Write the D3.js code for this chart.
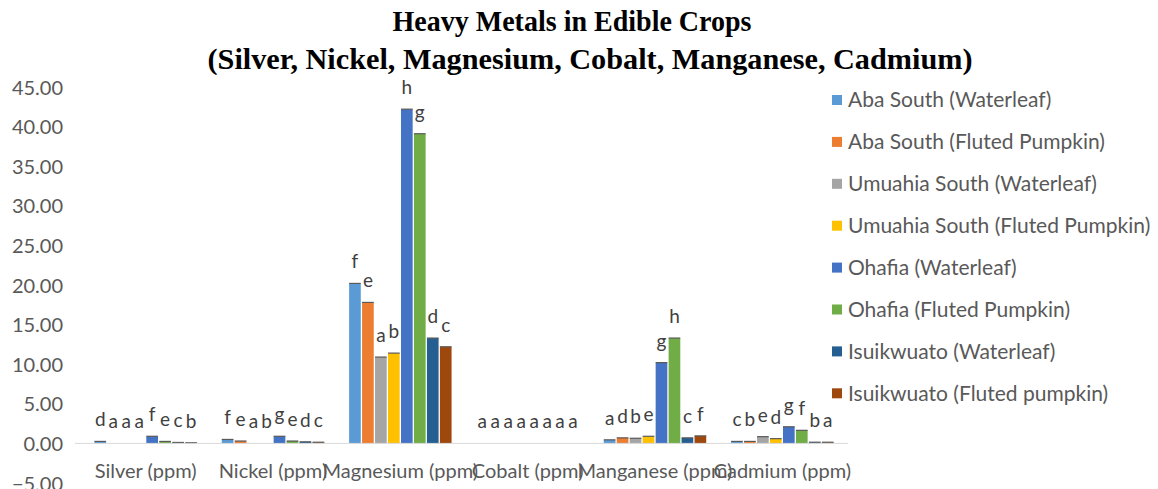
<!DOCTYPE html>
<html lang="en">
<head>
<meta charset="UTF-8">
<title>Heavy Metals in Edible Crops</title>
<style>
  body { margin: 0; background: #fff; }
  .axis text { font-family: Lato, "Open Sans", sans-serif; font-size: 20px; fill: #595959; }
  .title { font-family: "Liberation Serif", "Times New Roman", serif; font-weight: bold; fill: #000; }
  .lbl { font-family: Lato, "Open Sans", sans-serif; font-size: 19px; fill: #404040; }
  .legend text { font-family: Lato, "Open Sans", sans-serif; font-size: 21px; fill: #595959; }
</style>
</head>
<body>
<svg class="chart"></svg>
<script src="https://d3js.org/d3.v7.min.js"></script>
<script>
var categories = ["Silver (ppm)", "Nickel (ppm)", "Magnesium (ppm)", "Cobalt (ppm)", "Manganese (ppm)", "Cadmium (ppm)"];
var seriesNames = ["Aba South (Waterleaf)", "Aba South (Fluted Pumpkin)", "Umuahia South (Waterleaf)",
  "Umuahia South (Fluted Pumpkin)", "Ohafia (Waterleaf)", "Ohafia (Fluted Pumpkin)",
  "Isuikwuato (Waterleaf)", "Isuikwuato (Fluted pumpkin)"];
var colors = ["#5B9BD5", "#ED7D31", "#A5A5A5", "#FFC000", "#4472C4", "#70AD47", "#255E91", "#9E480E"];

// values per series, in category order
var abaW   = [0.25, 0.50, 20.2, 0, 0.45, 0.25];
var abaF   = [0,    0.30, 17.8, 0, 0.70, 0.25];
var umuW   = [0,    0,    10.9, 0, 0.65, 0.85];
var umuF   = [0,    0,    11.4, 0, 0.90, 0.60];
var ohaW   = [0.90, 0.90, 42.2, 0, 10.2, 2.10];
var ohaF   = [0.25, 0.30, 39.1, 0, 13.3, 1.65];
var isuW   = [0.12, 0.20, 13.3, 0, 0.70, 0.15];
var isuF   = [0.08, 0.15, 12.2, 0, 0.95, 0.15];
var values = [abaW, abaF, umuW, umuF, ohaW, ohaF, isuW, isuF];

// significance letters per category (one per series)
var letters = [
  ["d", "a", "a", "a", "f", "e", "c", "b"],
  ["f", "e", "a", "b", "g", "e", "d", "c"],
  ["f", "e", "a", "b", "h", "g", "d", "c"],
  ["a", "a", "a", "a", "a", "a", "a", "a"],
  ["a", "d", "b", "e", "g", "h", "c", "f"],
  ["c", "b", "e", "d", "g", "f", "b", "a"]
];
var yTicks = [-5, 0, 5, 10, 15, 20, 25, 30, 35, 40, 45];

var totalWidth = 1158, totalHeight = 489;

var svg = d3.select(".chart")
  .attr("width", totalWidth)
  .attr("height", totalHeight)
  .style("display", "block");

var x0 = d3.scaleBand()
  .domain(categories)
  .range([82, 846])
  .paddingInner(0.175)
  .paddingOuter(0.0875);

var x1 = d3.scaleBand()
  .domain(d3.range(seriesNames.length))
  .range([0, x0.bandwidth()])
  .padding(0.1);

var y = d3.scaleLinear()
  .domain([-5, 45])
  .range([483, 87]);

// title
svg.append("text").attr("class", "title")
  .attr("x", 572).attr("y", 31)
  .attr("text-anchor", "middle")
  .style("font-size", "29px")
  .attr("textLength", 359).attr("lengthAdjust", "spacingAndGlyphs")
  .text("Heavy Metals in Edible Crops");
svg.append("text").attr("class", "title")
  .attr("x", 590).attr("y", 69)
  .attr("text-anchor", "middle")
  .style("font-size", "29px")
  .attr("textLength", 765).attr("lengthAdjust", "spacingAndGlyphs")
  .text("(Silver, Nickel, Magnesium, Cobalt,  Manganese, Cadmium)");

// y axis labels
var yAxis = d3.axisLeft(y).tickValues(yTicks).tickFormat(d3.format(".2f")).tickSize(0).tickPadding(0);
var gy = svg.append("g").attr("class", "axis")
  .attr("transform", "translate(63,0)")
  .call(yAxis);
gy.select(".domain").remove();
gy.selectAll("text").attr("dy", "0.35em");

// bars
var groups = svg.selectAll("g.cat")
  .data(categories)
  .enter().append("g")
  .attr("class", "cat")
  .attr("transform", function(d) { return "translate(" + x0(d) + ",0)"; });

groups.each(function(cat, ci) {
  var g = d3.select(this);
  var rows = seriesNames.map(function(s, si) {
    return { si: si, v: values[si][ci], letter: letters[ci][si] };
  });
  g.selectAll("rect")
    .data(rows)
    .enter().append("rect")
    .attr("x", function(d) { return x1(d.si); })
    .attr("y", function(d) { return y(d.v); })
    .attr("width", x1.bandwidth())
    .attr("height", function(d) { return y(0) - y(d.v); })
    .attr("fill", function(d) { return colors[d.si]; });
  // small cap on top of each bar
  g.selectAll("line.cap")
    .data(rows.filter(function(d) { return d.v > 0; }))
    .enter().append("line")
    .attr("class", "cap")
    .attr("x1", function(d) { return x1(d.si); })
    .attr("x2", function(d) { return x1(d.si) + x1.bandwidth(); })
    .attr("y1", function(d) { return y(d.v); })
    .attr("y2", function(d) { return y(d.v); })
    .attr("stroke", "#595959")
    .attr("stroke-width", 1.2);
  g.selectAll("text.lbl")
    .data(rows)
    .enter().append("text")
    .attr("class", "lbl")
    .attr("x", function(d) { return x1(d.si) + x1.bandwidth() / 2; })
    .attr("y", function(d) { return y(d.v) - 15; })
    .attr("text-anchor", "middle")
    .text(function(d) { return d.letter; });
});

// x axis line at zero + category labels
svg.append("line")
  .attr("x1", 75).attr("x2", 848)
  .attr("y1", y(0)).attr("y2", y(0))
  .attr("stroke", "#D9D9D9").attr("stroke-width", 1);

var xAxis = d3.axisBottom(x0).tickSize(0).tickPadding(0);
var gx = svg.append("g").attr("class", "axis")
  .attr("transform", "translate(0,478)")
  .call(xAxis);
gx.select(".domain").remove();
gx.selectAll("text").attr("dy", 0);

// legend
var legend = svg.append("g").attr("class", "legend")
  .selectAll("g")
  .data(seriesNames)
  .enter().append("g")
  .attr("transform", function(d, i) { return "translate(832," + (100 + i * 41.9) + ")"; });
legend.append("rect")
  .attr("x", 0).attr("y", -5)
  .attr("width", 10).attr("height", 10)
  .attr("fill", function(d, i) { return colors[i]; });
legend.append("text")
  .attr("x", 16).attr("y", 0).attr("dy", "0.35em")
  .text(function(d) { return d; });
</script>
</body>
</html>
